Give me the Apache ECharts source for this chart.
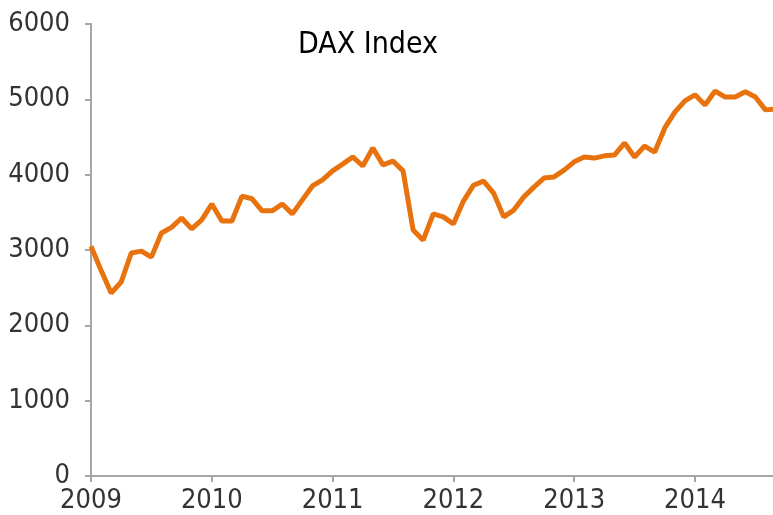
<!DOCTYPE html>
<html>
<head>
<meta charset="utf-8">
<title>DAX Index</title>
<script src="https://cdn.jsdelivr.net/npm/echarts@6/dist/echarts.min.js"></script>
<style>
  html, body { margin: 0; padding: 0; background: #fff; }
  #chart { width: 773px; height: 515px; }
</style>
</head>
<body>
<div id="chart"></div>
<script>
// monthly closes, Jan 2009 onward
var startYear = 2009;
var yearTicks = ['2009', '2010', '2011', '2012', '2013', '2014'];
var dax = [
  3050, 2730, 2430, 2575, 2960, 2985, 2905, 3225, 3300, 3425, 3280, 3400,   // 2009
  3610, 3385, 3385, 3715, 3680, 3520, 3520, 3610, 3480, 3665, 3850, 3930,   // 2010
  4050, 4140, 4235, 4115, 4355, 4130, 4180, 4050, 3265, 3130, 3480, 3440,   // 2011
  3345, 3650, 3860, 3915, 3755, 3440, 3530, 3705, 3835, 3955, 3970, 4060,   // 2012
  4170, 4235, 4220, 4250, 4260, 4420, 4235, 4380, 4300, 4620, 4830, 4980,   // 2013
  5060, 4925, 5110, 5030, 5030, 5100, 5030, 4860, 4870                      // 2014
];

var myChart = echarts.init(document.getElementById('chart'));
var axisGray = '#a6a6a6';
var font = 'DejaVu Sans Condensed';

var option = {
  animation: false,
  title: {
    text: 'DAX Index',
    left: 293,
    top: 25,
    textStyle: { fontFamily: font, fontSize: 30, fontWeight: 'normal', color: '#000' }
  },
  grid: { left: 91, right: 0, top: 24, bottom: 39 },
  xAxis: {
    type: 'value',
    min: 0,
    max: 67.75,
    interval: 12,
    splitLine: { show: false },
    axisLine: { lineStyle: { color: axisGray, width: 2 } },
    axisTick: { length: 6, lineStyle: { color: axisGray, width: 2 } },
    axisLabel: {
      margin: 11,
      showMaxLabel: false,
      fontFamily: font, fontSize: 27, color: '#333',
      formatter: function (v) { return yearTicks[v / 12] || ''; }
    }
  },
  yAxis: {
    type: 'value',
    min: 0,
    max: 6000,
    interval: 1000,
    splitLine: { show: false },
    axisLine: { show: true, lineStyle: { color: axisGray, width: 2 } },
    axisTick: { show: true, length: 6, lineStyle: { color: axisGray, width: 2 } },
    axisLabel: {
      margin: 21, fontFamily: font, fontSize: 27, color: '#333',
      formatter: function (v) { return String(v); }
    }
  },
  series: [{
    name: 'DAX',
    type: 'line',
    symbol: 'none',
    lineStyle: { color: '#E8720E', width: 5 },
    data: dax.map(function (v, i) { return [i, v]; })
  }]
};

myChart.setOption(option);
</script>
</body>
</html>
